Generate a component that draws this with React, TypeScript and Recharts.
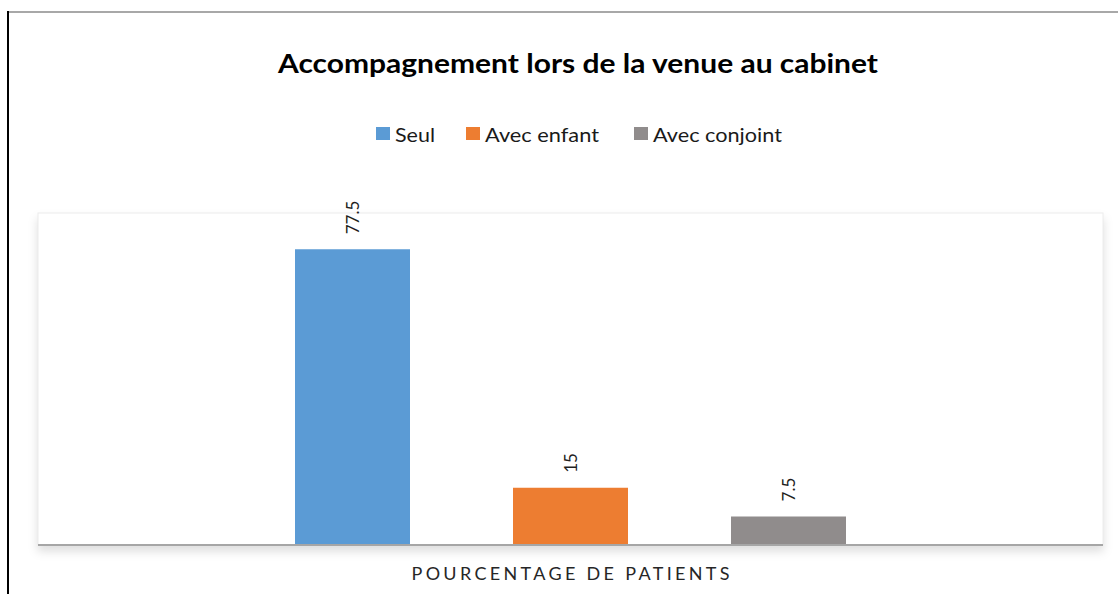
import React from 'react';
import { BarChart, Bar, XAxis, YAxis, Legend, LabelList, ReferenceArea } from 'recharts';

const title = 'Accompagnement lors de la venue au cabinet';
const categories = ['POURCENTAGE DE PATIENTS'];
const seriesNames = ['Seul', 'Avec enfant', 'Avec conjoint'];
const seriesKeys = ['seul', 'enfant', 'conjoint'];
const seulValues = [77.5];
const enfantValues = [15];
const conjointValues = [7.5];
const seriesColors = ['#5B9BD5', '#ED7D31', '#908C8C'];

const data = categories.map((c, i) => ({
  cat: c,
  seul: seulValues[i],
  enfant: enfantValues[i],
  conjoint: conjointValues[i],
}));

const W = 1118;
const H = 594;
const FONT = 'Lato, "Open Sans", "Liberation Sans", sans-serif';

// legend layout: square x, text x, text length
const legendLayout = [
  { sq: 376, tx: 395, len: 40 },
  { sq: 466, tx: 485, len: 114 },
  { sq: 634, tx: 653, len: 129 },
];

const renderLegend = () => (
  <svg width={W} height={32} style={{ display: 'block' }}>
    {seriesNames.map((n, i) => (
      <g key={n}>
        <rect x={legendLayout[i].sq} y={9} width={14} height={13} fill={seriesColors[i]} />
        <text
          x={legendLayout[i].tx}
          y={24}
          fontSize={20}
          fontFamily={FONT}
          fill="#1a1a1a"
          textLength={legendLayout[i].len}
          lengthAdjust="spacingAndGlyphs"
        >
          {n}
        </text>
      </g>
    ))}
  </svg>
);

const renderValueLabel = (props: any) => {
  const { x, y, width, value } = props;
  const cx = Number(x) + Number(width) / 2;
  const ty = Number(y) - 15;
  return (
    <text
      transform={`translate(${cx}, ${ty}) rotate(-90)`}
      textAnchor="start"
      dominantBaseline="central"
      fontSize={17}
      fontFamily={FONT}
      fill="#1f1f1f"
    >
      {value}
    </text>
  );
};

const renderTick = (props: any) => {
  const { x, y, payload } = props;
  return (
    <text
      x={x}
      y={y}
      dy={27}
      textAnchor="middle"
      fontSize={18}
      fontFamily={FONT}
      fill="#262626"
      textLength={318}
      lengthAdjust="spacing"
    >
      {payload.value}
    </text>
  );
};

const PlotBox = (props: any) => {
  const { x, y, width, height } = props;
  return (
    <rect
      x={x}
      y={y}
      width={width}
      height={height}
      fill="#ffffff"
      stroke="#ececec"
      strokeWidth={1}
      style={{ filter: 'drop-shadow(0px 6px 5px rgba(0,0,0,0.13))' }}
    />
  );
};

export default function App() {
  return (
    <div style={{ position: 'absolute', left: 0, top: 0, width: W, height: H, background: '#fff', fontFamily: FONT, overflow: 'hidden' }}>
      <style>{`html,body{margin:0;padding:0;overflow:hidden;}`}</style>
      <div style={{ position: 'absolute', left: 7, top: 11, width: W - 7, height: 2, background: '#a8a8a8' }} />
      <div style={{ position: 'absolute', left: 7, top: 11, width: 2, height: H - 11, background: '#000000' }} />
      <div style={{ position: 'absolute', left: 0, top: 0 }}>
        <BarChart
          width={W}
          height={H}
          data={data}
          margin={{ top: 213, right: 15, bottom: 19, left: 38 }}
          barSize={115}
          barGap={103}
        >
          <ReferenceArea y1={0} y2={87} shape={<PlotBox />} ifOverflow="visible" />
          <text
            x={578}
            y={73}
            textAnchor="middle"
            fontSize={26}
            fontWeight={700}
            fontFamily={FONT}
            fill="#000000"
            textLength={600}
            lengthAdjust="spacingAndGlyphs"
          >
            {title}
          </text>
          <XAxis
            dataKey="cat"
            height={30}
            tickLine={false}
            axisLine={{ stroke: '#a6a6a6', strokeWidth: 2 }}
            tick={renderTick}
            interval={0}
          />
          <YAxis hide domain={[0, 87]} />
          <Legend
            verticalAlign="middle"
            align="center"
            layout="horizontal"
            content={renderLegend}
            wrapperStyle={{ top: 118, left: 0, width: W, height: 32 }}
          />
          {seriesKeys.map((k, i) => (
            <Bar key={k} dataKey={k} name={seriesNames[i]} fill={seriesColors[i]} isAnimationActive={false}>
              <LabelList dataKey={k} content={renderValueLabel} />
            </Bar>
          ))}
        </BarChart>
      </div>
    </div>
  );
}
